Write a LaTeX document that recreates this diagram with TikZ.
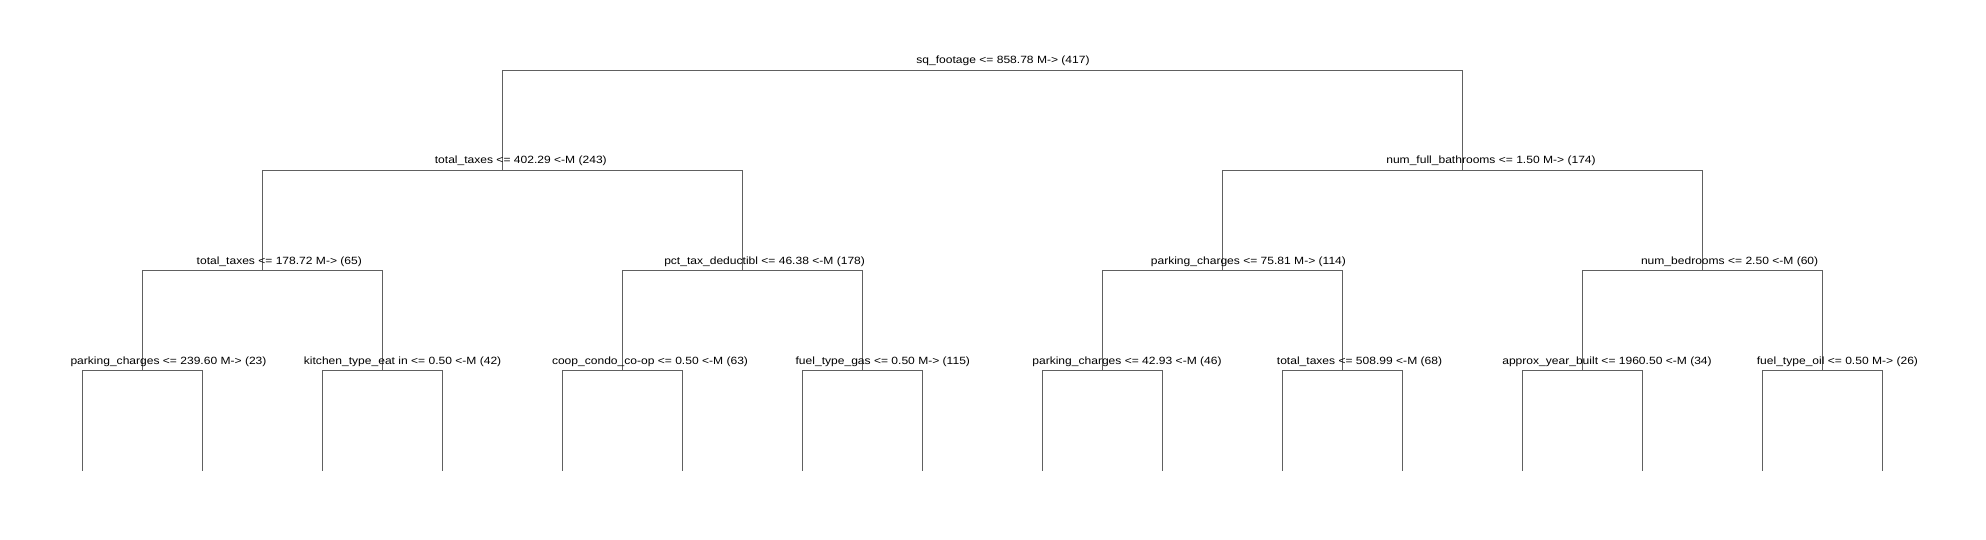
\documentclass[tikz,border=0pt]{standalone}
\usepackage{fontspec}
\newfontfamily\lblfont[FakeStretch=1.148]{Liberation Sans}
\definecolor{treeline}{RGB}{96,96,96}
\begin{document}
\begin{tikzpicture}[x=1pt,y=-1pt,
  lbl/.style={anchor=base,inner sep=0pt,font=\lblfont\fontsize{10.5}{12}\selectfont,text=black},
  edge/.style={draw=treeline,line width=1pt}]
\useasboundingbox[fill=white] (0,0) rectangle (1986,540);
% node coordinates
\def\lx{82.3}\def\dx{120.02}
\coordinate (n0) at ({\lx+\dx*7.5},70.3);
\coordinate (n1) at ({\lx+\dx*3.5},170.3);
\coordinate (n2) at ({\lx+\dx*11.5},170.3);
\coordinate (n11) at ({\lx+\dx*1.5},270.3);
\coordinate (n12) at ({\lx+\dx*5.5},270.3);
\coordinate (n21) at ({\lx+\dx*9.5},270.3);
\coordinate (n22) at ({\lx+\dx*13.5},270.3);
\foreach \i in {0,...,7}{
  \coordinate (m\i) at ({\lx+\dx*(2*\i+0.5)},370.3);
}
\foreach \i in {0,...,15}{
  \coordinate (leaf\i) at ({\lx+\dx*\i},471);
}
% connectors
\draw[edge] (n0) -| (n1); \draw[edge] (n0) -| (n2);
\draw[edge] (n1) -| (n11); \draw[edge] (n1) -| (n12);
\draw[edge] (n2) -| (n21); \draw[edge] (n2) -| (n22);
\draw[edge] (n11) -| (m0); \draw[edge] (n11) -| (m1);
\draw[edge] (n12) -| (m2); \draw[edge] (n12) -| (m3);
\draw[edge] (n21) -| (m4); \draw[edge] (n21) -| (m5);
\draw[edge] (n22) -| (m6); \draw[edge] (n22) -| (m7);
\foreach \i in {0,...,7}{
  \pgfmathtruncatemacro{\a}{2*\i}\pgfmathtruncatemacro{\b}{2*\i+1}
  \draw[edge] (m\i) -| (leaf\a);
  \draw[edge] (m\i) -| (leaf\b);
}
% labels
\node[lbl] (t0) at (1003,64) {sq\_footage <= 858.78 M-> (417)};
\node[lbl] (t1) at (520.8,164) {total\_taxes <= 402.29 <-M (243)};
\node[lbl] (t2) at (1491,164) {num\_full\_bathrooms <= 1.50 M-> (174)};
\node[lbl] (t11) at (279.3,264) {total\_taxes <= 178.72 M-> (65)};
\node[lbl] (t12) at (764.6,264) {pct\_tax\_deductibl <= 46.38 <-M (178)};
\node[lbl] (t21) at (1248.4,264) {parking\_charges <= 75.81 M-> (114)};
\node[lbl] (t22) at (1729.6,264) {num\_bedrooms <= 2.50 <-M (60)};
\node[lbl] (u0) at (168.5,364) {parking\_charges <= 239.60 M-> (23)};
\node[lbl] (u1) at (402.6,364) {kitchen\_type\_eat in <= 0.50 <-M (42)};
\node[lbl] (u2) at (650,364) {coop\_condo\_co-op <= 0.50 <-M (63)};
\node[lbl] (u3) at (882.8,364) {fuel\_type\_gas <= 0.50 M-> (115)};
\node[lbl] (u4) at (1127,364) {parking\_charges <= 42.93 <-M (46)};
\node[lbl] (u5) at (1359.5,364) {total\_taxes <= 508.99 <-M (68)};
\node[lbl] (u6) at (1607,364) {approx\_year\_built <= 1960.50 <-M (34)};
\node[lbl] (u7) at (1837.4,364) {fuel\_type\_oil <= 0.50 M-> (26)};
\end{tikzpicture}
\end{document}
